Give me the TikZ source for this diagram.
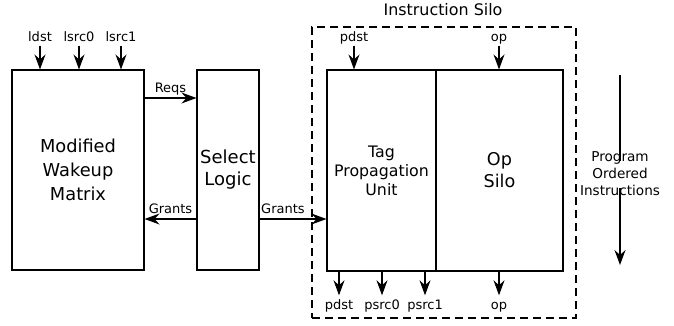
\documentclass[tikz,border=0pt]{standalone}
\usepackage{fontspec}
\setmainfont{DejaVu Sans}
\usetikzlibrary{arrows.meta}
\begin{document}
\begin{tikzpicture}[x=1pt, y=-1pt,
  box/.style={draw, line width=1.1pt, inner sep=0pt, align=center},
  lbl/.style={inner xsep=0pt, inner ysep=1.5pt, text height=9.5pt, text depth=2.5pt,
              font=\fontsize{13}{15}\selectfont},
  arr/.style={line width=1.1pt, -{Stealth[length=15pt, width=11pt, inset=5pt]}},
  silobox/.style={draw, line width=1.1pt, dash pattern=on 8pt off 5pt, inner sep=0pt}]
\useasboundingbox (0,0) rectangle (674,325);

% issue-side blocks
\node[box, minimum width=132pt, minimum height=200pt,
      font=\fontsize{17.8}{24}\selectfont] (wakeup) at (78,170) {Modified\\Wakeup\\Matrix};
\node[box, minimum width=62pt, minimum height=200pt,
      font=\fontsize{18}{22}\selectfont] (select) at (228,170) {Select\\Logic};

% instruction silo
\node[silobox, minimum width=264pt, minimum height=291pt] (silo) at (444,172.5) {};
\node[font=\fontsize{15.9}{18}\selectfont] (silotitle) at (443,10) {Instruction Silo};
\node[box, minimum width=109pt, minimum height=201pt,
      font=\fontsize{15.8}{19}\selectfont] (tpu) at (381.5,170.5) {Tag\\Propagation\\Unit};
\node[box, minimum width=127pt, minimum height=201pt,
      font=\fontsize{17.6}{22}\selectfont] (opsilo) at (499.5,170.5) {Op\\Silo};

% inputs of the wakeup matrix
\node[lbl] (ldst) at (40,38) {ldst};
\node[lbl] (lsrc0) at (79,38) {lsrc0};
\node[lbl] (lsrc1) at (121,38) {lsrc1};
\foreach \n in {ldst,lsrc0,lsrc1}
  \draw[arr] (\n.south) -- (\n.south |- wakeup.north);

% inputs of the silo
\node[lbl] (pdstin) at (354,38) {pdst};
\node[lbl] (opin) at (499,38) {op};
\foreach \n in {pdstin,opin}
  \draw[arr] (\n.south) -- (\n.south |- tpu.north);

% outputs of the silo
\node[lbl] (pdstout) at (339,306) {pdst};
\node[lbl] (psrc0) at (382,306) {psrc0};
\node[lbl] (psrc1) at (425,306) {psrc1};
\node[lbl] (opout) at (499,306) {op};
\foreach \n in {pdstout,psrc0,psrc1,opout}
  \draw[arr, shorten >=3pt] (\n.north |- tpu.south) -- (\n.north);

% requests and grants
\coordinate (reqy) at (0,98);
\coordinate (gnty) at (0,219);
\draw[arr] (wakeup.east |- reqy) -- (select.west |- reqy)
  node[lbl, midway, above=1pt] {Reqs};
\draw[arr] (select.west |- gnty) -- (wakeup.east |- gnty)
  node[lbl, midway, above=1pt] {Grants};
\draw[arr] (select.east |- gnty) -- (tpu.west |- gnty)
  node[lbl, pos=0.35, above=1pt] {Grants};

% program order
\node[font=\fontsize{13.6}{17}\selectfont, align=center, inner sep=0pt] (order) at (620,174)
  {Program\\Ordered\\Instructions};
\coordinate (ordertop) at (620,75);
\coordinate (orderend) at (620,265);
\draw[line width=1.1pt] (ordertop) -- ([yshift=-9pt]order.north);
\draw[arr] ([yshift=8pt]order.south) -- (orderend);
\end{tikzpicture}
\end{document}
